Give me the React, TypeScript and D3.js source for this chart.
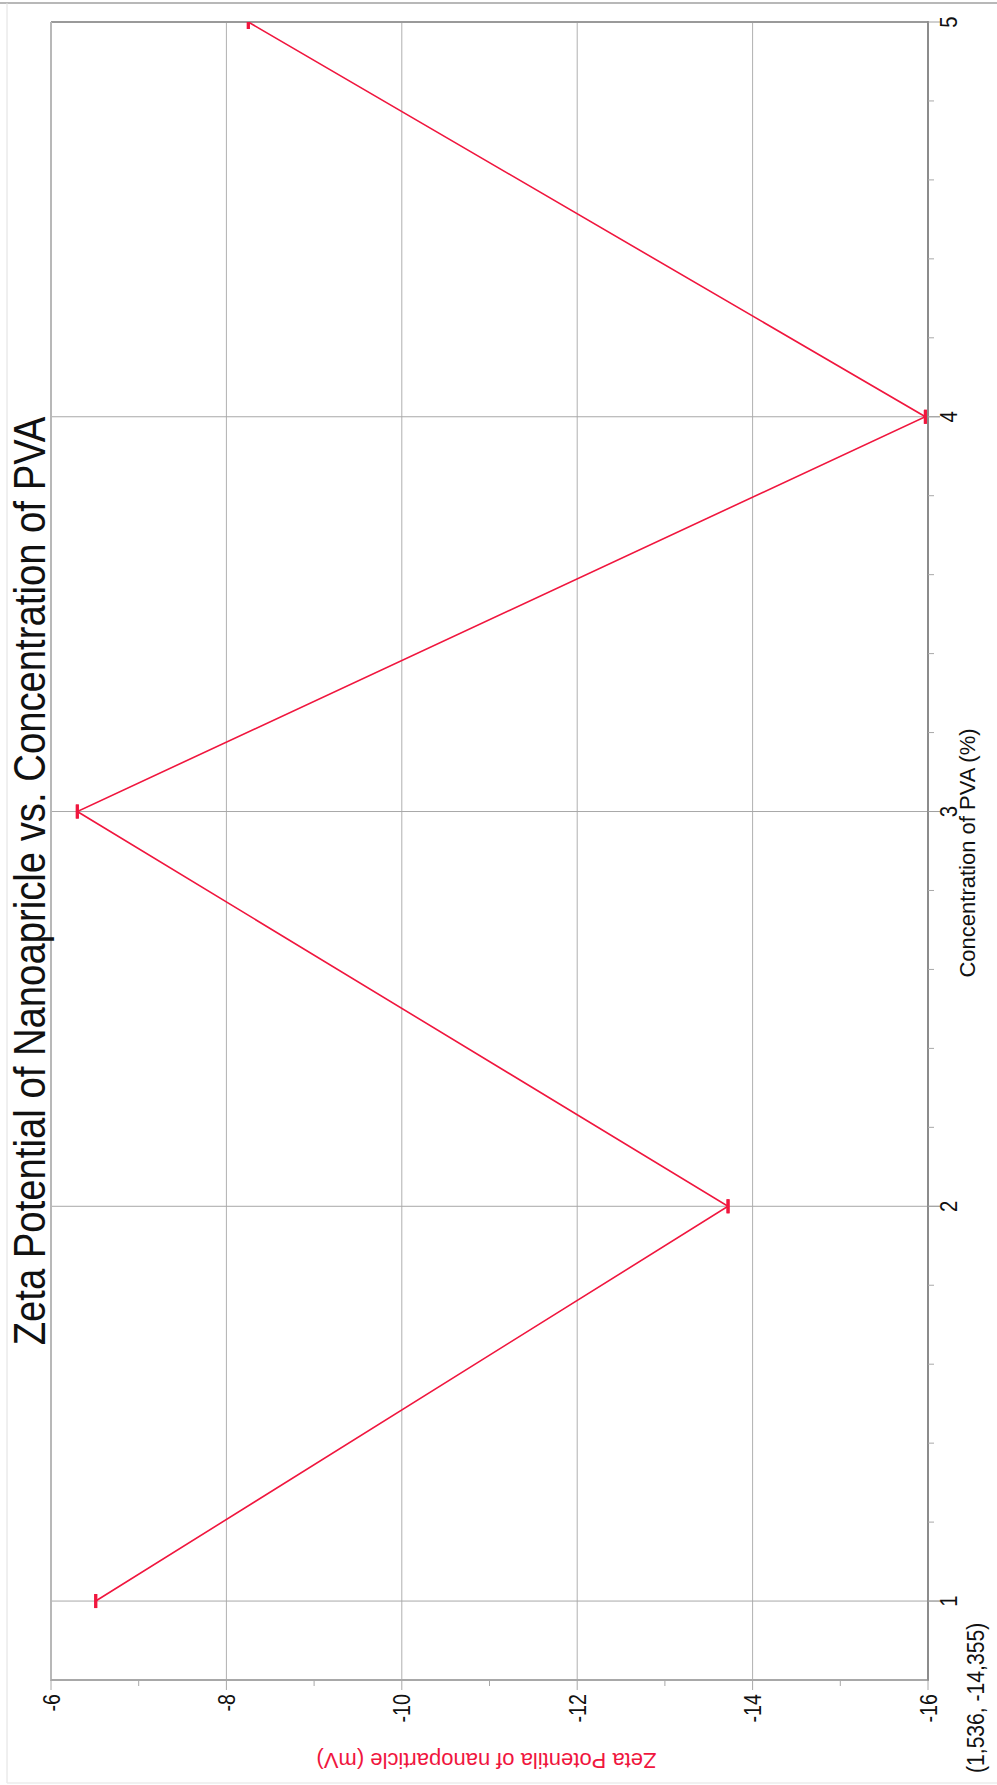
import React from "react";
import * as d3 from "d3";

const concentrations = [1, 2, 3, 4, 5];
const zetaValues = [-6.51, -13.72, -6.3, -15.97, -8.25];
const zetaErrors = [0, 0, 0, 0, 0];
const concTicks = [1, 2, 3, 4, 5];
const zetaTicks = [-6, -8, -10, -12, -14, -16];
const titleText = "Zeta Potential of Nanoapricle vs. Concentration of PVA";
const xTitle = "Concentration of PVA (%)";
const yTitle = "Zeta Potentila of nanoparticle (mV)";
const cursorText = "(1,536, -14,355)";

const W = 997;
const H = 1785;
const RED = "#f0163e";

export default function App() {
  const left = 51, right = 928, top = 22, bottom = 1680;
  // zeta potential runs horizontally (left -> right), concentration vertically (bottom -> top)
  const zx = d3.scaleLinear().domain([-6, -16]).range([left, right]);
  const cy = d3.scaleLinear().domain([0.8, 5]).range([bottom, top]);

  const minorConc = d3
    .range(0.8, 5.0001, 0.2)
    .map((v) => +v.toFixed(2))
    .filter((v) => !concTicks.includes(v) && v > 0.8 + 1e-6);
  const minorZeta = d3.range(-7, -16, -2);

  const line = d3
    .line<number>()
    .x((_, i) => zx(zetaValues[i]))
    .y((d) => cy(d));

  const font = "'Liberation Sans', Arial, sans-serif";

  return (
    <svg
      width={W}
      height={H}
      style={{ position: "absolute", left: 0, top: 0, background: "#fff" }}
      fontFamily={font}
    >
      <defs>
        <clipPath id="plotClip">
          <rect x={left} y={top} width={right - left} height={bottom - top} />
        </clipPath>
      </defs>
      {/* outer frame */}
      <line x1={0} x2={W} y1={3} y2={3} stroke="#a0a0a0" strokeWidth={1.5} />
      <line x1={7} x2={7} y1={3} y2={1783} stroke="#e0e0e0" strokeWidth={1} />
      <line x1={7} x2={W} y1={1783} y2={1783} stroke="#ececec" strokeWidth={1.5} />

      {/* grid */}
      {zetaTicks.slice(1, -1).map((t) => (
        <line key={"gz" + t} x1={zx(t)} x2={zx(t)} y1={top} y2={bottom} stroke="#b0b0b0" strokeWidth={1} />
      ))}
      {concTicks.slice(0, -1).map((t) => (
        <line key={"gc" + t} x1={left} x2={right + 12} y1={cy(t)} y2={cy(t)} stroke="#a8a8a8" strokeWidth={1} />
      ))}

      {/* plot border */}
      <line x1={left} x2={right} y1={top} y2={top} stroke="#9a9a9a" strokeWidth={2} />
      <line x1={left} x2={left} y1={top} y2={bottom + 1} stroke="#b8b8b8" strokeWidth={2} />
      <line x1={left} x2={right} y1={bottom} y2={bottom} stroke="#a8a8a8" strokeWidth={2} />
      <line x1={right} x2={right} y1={top - 1} y2={bottom + 1} stroke="#8c8c8c" strokeWidth={2} />

      {/* right (concentration) axis ticks */}
      {concTicks.map((t) => (
        <line key={"tc" + t} x1={right} x2={right + 12} y1={cy(t)} y2={cy(t)} stroke="#a0a0a0" strokeWidth={1} />
      ))}
      {minorConc.map((t) => (
        <line key={"mc" + t} x1={right} x2={right + 6} y1={cy(t)} y2={cy(t)} stroke="#a8a8a8" strokeWidth={1} />
      ))}
      {concTicks.map((t) => (
        <text
          key={"lc" + t}
          transform={`translate(957,${cy(t)}) rotate(-90) scale(0.85,1)`}
          textAnchor="middle"
          fontSize={24}
          fill="#111"
        >
          {t}
        </text>
      ))}

      {/* bottom (zeta) axis ticks */}
      {zetaTicks.map((t) => (
        <line key={"tz" + t} x1={zx(t)} x2={zx(t)} y1={bottom} y2={bottom + 10} stroke="#a8a8a8" strokeWidth={1} />
      ))}
      {minorZeta.map((t) => (
        <line key={"mz" + t} x1={zx(t)} x2={zx(t)} y1={bottom} y2={bottom + 6} stroke="#a8a8a8" strokeWidth={1} />
      ))}
      {zetaTicks.map((t) => (
        <text
          key={"lz" + t}
          transform={`translate(${zx(t) + 8.5},1694) rotate(-90) scale(0.82,1)`}
          textAnchor="end"
          fontSize={24}
          fill="#111"
        >
          {t}
        </text>
      ))}

      {/* data */}
      <g clipPath="url(#plotClip)">
        <path d={line(concentrations) || ""} fill="none" stroke={RED} strokeWidth={1.6} />
        {concentrations.map((c, i) => (
          <g key={"e" + c}>
            <line
              x1={zx(zetaValues[i] - zetaErrors[i])}
              x2={zx(zetaValues[i] - zetaErrors[i])}
              y1={cy(c) - 7}
              y2={cy(c) + 7}
              stroke={RED}
              strokeWidth={3}
            />
            <line
              x1={zx(zetaValues[i] + zetaErrors[i])}
              x2={zx(zetaValues[i] + zetaErrors[i])}
              y1={cy(c) - 7}
              y2={cy(c) + 7}
              stroke={RED}
              strokeWidth={3}
            />
          </g>
        ))}
      </g>

      {/* titles */}
      <text
        transform={`translate(45,881) rotate(-90) scale(0.87,1)`}
        textAnchor="middle"
        fontSize={44}
        fill="#111"
      >
        {titleText}
      </text>
      <text
        transform={`translate(975,853) rotate(-90)`}
        textAnchor="middle"
        fontSize={22}
        fill="#111"
      >
        {xTitle}
      </text>
      <text
        transform={`translate(${(left + right) / 2 - 3},1753) rotate(180)`}
        textAnchor="middle"
        fontSize={22}
        fill={RED}
      >
        {yTitle}
      </text>
      <text
        transform={`translate(984,1773) rotate(-90) scale(0.88,1)`}
        textAnchor="start"
        fontSize={24}
        fill="#111"
      >
        {cursorText}
      </text>
    </svg>
  );
}
